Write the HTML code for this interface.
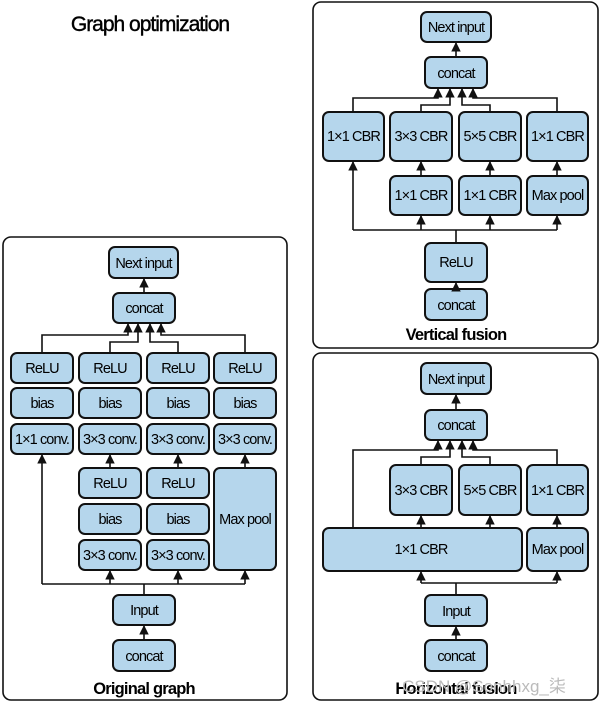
<!DOCTYPE html>
<html><head><meta charset="utf-8"><style>
body{margin:0;background:#fff;width:600px;height:703px;overflow:hidden}
svg{display:block}
.b{fill:#b5d6ec;stroke:#111;stroke-width:2}
.p{fill:#fff;stroke:#111;stroke-width:1.6}
.l{fill:none;stroke:#111;stroke-width:1.6}
text{font-family:"Liberation Sans",sans-serif;font-size:14.5px;text-anchor:middle;fill:#000;letter-spacing:-0.9px}
.t{font-size:16.5px;font-weight:bold;letter-spacing:-0.8px}
</style></head><body>
<svg width="600" height="703" viewBox="0 0 600 703">
<defs><marker id="a" viewBox="0 0 10 10" refX="9" refY="5" markerWidth="6" markerHeight="6" orient="auto"><path d="M0,0L10,5L0,10z" fill="#111"/></marker></defs>
<text x="150" y="31" style="font-size:21px;letter-spacing:-1px;stroke:#000;stroke-width:0.4">Graph optimization</text>

<!-- Original graph -->
<rect class="p" x="3" y="237" width="284" height="463" rx="8"/>
<rect class="b" x="109" y="247" width="69" height="31" rx="6"/><text x="143.5" y="268">Next input</text>
<rect class="b" x="113" y="293" width="62" height="30" rx="6"/><text x="144" y="313">concat</text>
<path class="l" marker-end="url(#a)" d="M144 293V279"/>
<path class="l" marker-end="url(#a)" d="M42 353V335H128V324"/>
<path class="l" marker-end="url(#a)" d="M110 353V342H138V324"/>
<path class="l" marker-end="url(#a)" d="M178 353V342H150V324"/>
<path class="l" marker-end="url(#a)" d="M245 353V335H161V324"/>
<g>
<rect class="b" x="11" y="353" width="62" height="30" rx="6"/><text x="42" y="373">ReLU</text>
<rect class="b" x="79" y="353" width="62" height="30" rx="6"/><text x="110" y="373">ReLU</text>
<rect class="b" x="147" y="353" width="62" height="30" rx="6"/><text x="178" y="373">ReLU</text>
<rect class="b" x="214" y="353" width="62" height="30" rx="6"/><text x="245" y="373">ReLU</text>
<rect class="b" x="11" y="388" width="62" height="30" rx="6"/><text x="42" y="408">bias</text>
<rect class="b" x="79" y="388" width="62" height="30" rx="6"/><text x="110" y="408">bias</text>
<rect class="b" x="147" y="388" width="62" height="30" rx="6"/><text x="178" y="408">bias</text>
<rect class="b" x="214" y="388" width="62" height="30" rx="6"/><text x="245" y="408">bias</text>
<rect class="b" x="11" y="424" width="62" height="30" rx="6"/><text x="42" y="444">1×1 conv.</text>
<rect class="b" x="79" y="424" width="62" height="30" rx="6"/><text x="110" y="444">3×3 conv.</text>
<rect class="b" x="147" y="424" width="62" height="30" rx="6"/><text x="178" y="444">3×3 conv.</text>
<rect class="b" x="214" y="424" width="62" height="30" rx="6"/><text x="245" y="444">3×3 conv.</text>
</g>
<path class="l" marker-end="url(#a)" d="M110 468V455"/>
<path class="l" marker-end="url(#a)" d="M178 468V455"/>
<path class="l" marker-end="url(#a)" d="M245 468V455"/>
<rect class="b" x="79" y="468" width="62" height="30" rx="6"/><text x="110" y="488">ReLU</text>
<rect class="b" x="147" y="468" width="62" height="30" rx="6"/><text x="178" y="488">ReLU</text>
<rect class="b" x="79" y="504" width="62" height="30" rx="6"/><text x="110" y="524">bias</text>
<rect class="b" x="147" y="504" width="62" height="30" rx="6"/><text x="178" y="524">bias</text>
<rect class="b" x="79" y="540" width="62" height="30" rx="6"/><text x="110" y="560">3×3 conv.</text>
<rect class="b" x="147" y="540" width="62" height="30" rx="6"/><text x="178" y="560">3×3 conv.</text>
<rect class="b" x="214" y="468" width="62" height="102" rx="6"/><text x="245" y="524">Max pool</text>
<path class="l" marker-end="url(#a)" d="M42 584V455"/>
<path class="l" d="M42 584H245M144 595V584"/>
<path class="l" marker-end="url(#a)" d="M110 584V571"/>
<path class="l" marker-end="url(#a)" d="M178 584V571"/>
<path class="l" marker-end="url(#a)" d="M245 584V571"/>
<rect class="b" x="113" y="595" width="62" height="30" rx="6"/><text x="144" y="615">Input</text>
<rect class="b" x="113" y="640" width="62" height="31" rx="6"/><text x="144" y="661">concat</text>
<path class="l" marker-end="url(#a)" d="M144 640V626"/>
<text class="t" x="144" y="694">Original graph</text>

<!-- Vertical fusion -->
<rect class="p" x="313" y="2" width="285" height="346" rx="8"/>
<rect class="b" x="421" y="12" width="70" height="30" rx="6"/><text x="456" y="32">Next input</text>
<rect class="b" x="425" y="57" width="62" height="31" rx="6"/><text x="456" y="78">concat</text>
<path class="l" marker-end="url(#a)" d="M456 57V43"/>
<path class="l" marker-end="url(#a)" d="M353 112V98H438V89"/>
<path class="l" marker-end="url(#a)" d="M421 112V105H450V89"/>
<path class="l" marker-end="url(#a)" d="M490 112V105H462V89"/>
<path class="l" marker-end="url(#a)" d="M557 112V98H473V89"/>
<rect class="b" x="323" y="112" width="61" height="49" rx="6"/><text x="353.5" y="141">1×1 CBR</text>
<rect class="b" x="390" y="112" width="62" height="49" rx="6"/><text x="421" y="141">3×3 CBR</text>
<rect class="b" x="459" y="112" width="62" height="49" rx="6"/><text x="490" y="141">5×5 CBR</text>
<rect class="b" x="527" y="112" width="61" height="49" rx="6"/><text x="557.5" y="141">1×1 CBR</text>
<path class="l" marker-end="url(#a)" d="M421 176V162"/>
<path class="l" marker-end="url(#a)" d="M490 176V162"/>
<path class="l" marker-end="url(#a)" d="M557 176V162"/>
<rect class="b" x="390" y="176" width="62" height="39" rx="6"/><text x="421" y="200">1×1 CBR</text>
<rect class="b" x="459" y="176" width="62" height="39" rx="6"/><text x="490" y="200">1×1 CBR</text>
<rect class="b" x="527" y="176" width="61" height="39" rx="6"/><text x="557.5" y="200">Max pool</text>
<path class="l" marker-end="url(#a)" d="M353 230V162"/>
<path class="l" d="M353 230H557M456 243V230"/>
<path class="l" marker-end="url(#a)" d="M421 230V216"/>
<path class="l" marker-end="url(#a)" d="M490 230V216"/>
<path class="l" marker-end="url(#a)" d="M557 230V216"/>
<rect class="b" x="425" y="243" width="62" height="39" rx="6"/><text x="456" y="267">ReLU</text>
<rect class="b" x="425" y="289" width="62" height="31" rx="6"/><text x="456" y="310">concat</text>
<path class="l" marker-end="url(#a)" d="M456 289V283"/>
<text class="t" x="456" y="340">Vertical fusion</text>

<!-- Horizontal fusion -->
<rect class="p" x="313" y="353" width="285" height="347" rx="8"/>
<rect class="b" x="421" y="363" width="70" height="31" rx="6"/><text x="456" y="384">Next input</text>
<rect class="b" x="425" y="410" width="62" height="30" rx="6"/><text x="456" y="430">concat</text>
<path class="l" marker-end="url(#a)" d="M456 410V395"/>
<path class="l" marker-end="url(#a)" d="M353 528V450H438V441"/>
<path class="l" marker-end="url(#a)" d="M421 465V457H450V441"/>
<path class="l" marker-end="url(#a)" d="M490 465V457H462V441"/>
<path class="l" marker-end="url(#a)" d="M557 465V450H473V441"/>
<rect class="b" x="390" y="465" width="62" height="50" rx="6"/><text x="421" y="495">3×3 CBR</text>
<rect class="b" x="459" y="465" width="62" height="50" rx="6"/><text x="490" y="495">5×5 CBR</text>
<rect class="b" x="527" y="465" width="61" height="50" rx="6"/><text x="557.5" y="495">1×1 CBR</text>
<path class="l" marker-end="url(#a)" d="M421 528V516"/>
<path class="l" marker-end="url(#a)" d="M490 528V516"/>
<path class="l" marker-end="url(#a)" d="M557 528V516"/>
<rect class="b" x="323" y="528" width="199" height="43" rx="6"/><text x="421" y="554">1×1 CBR</text>
<rect class="b" x="527" y="528" width="61" height="43" rx="6"/><text x="557.5" y="554">Max pool</text>
<path class="l" d="M421 583H557M456 595V583"/>
<path class="l" marker-end="url(#a)" d="M421 583V572"/>
<path class="l" marker-end="url(#a)" d="M557 583V572"/>
<rect class="b" x="425" y="595" width="62" height="31" rx="6"/><text x="456" y="616">Input</text>
<rect class="b" x="425" y="640" width="62" height="31" rx="6"/><text x="456" y="661">concat</text>
<path class="l" marker-end="url(#a)" d="M456 640V627"/>
<text class="t" x="456" y="694">Horizontal fusion</text>
<text x="484" y="692" style="font-size:17px;fill:#bbb;font-family:'Liberation Sans','Noto Sans CJK SC',sans-serif;letter-spacing:0">CSDN @Sonhhxg_柒</text>
</svg>
</body></html>
